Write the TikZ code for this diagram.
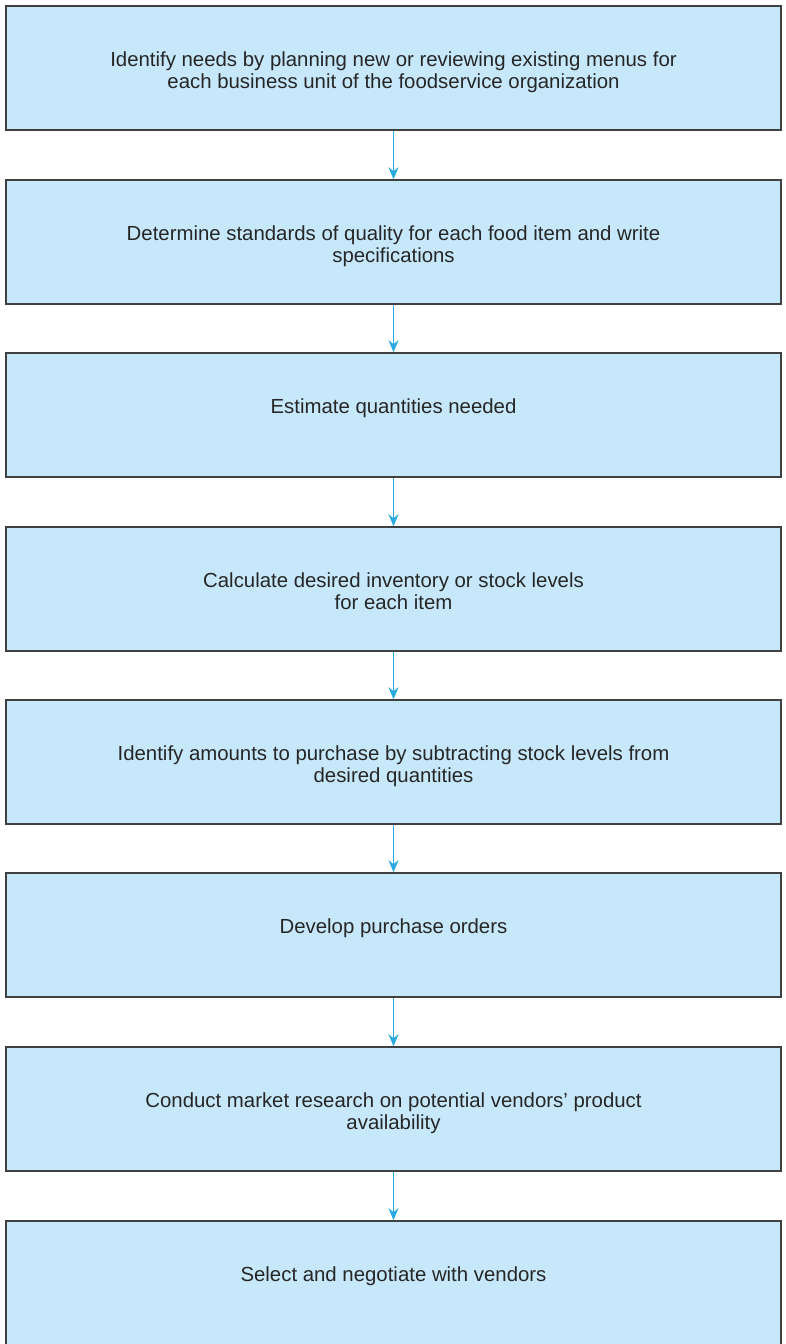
\documentclass[tikz,border=0pt]{standalone}
\usepackage{fontspec}
\setmainfont{Liberation Sans}
\usetikzlibrary{positioning,arrows.meta}

\definecolor{boxfill}{HTML}{C6E8FA}
\definecolor{boxline}{HTML}{404040}
\definecolor{arrowblue}{HTML}{29ABE2}
\definecolor{textgray}{HTML}{262626}

\tikzset{
    stepbox/.style={draw=boxline, fill=boxfill, line width=0.85pt,
        minimum width=15.5cm, minimum height=2.48cm, inner sep=0pt},
    steptext/.style={text=textgray, font=\fontsize{11.6}{12.5}\selectfont,
        align=center, inner sep=0pt},
    flowarrow/.style={draw=arrowblue, line width=1pt,
        -{Stealth[length=0.24cm, width=0.2cm]}}
}

\begin{document}
\begin{tikzpicture}
[
    x=0.02cm, y=-0.02cm
]
    \useasboundingbox (0,0) rectangle (785,1344);

    % boxes
    \node [stepbox] (identify) at (393.5, 68) {};
    \node [stepbox] (standards) at (393.5, 242) {};
    \node [stepbox] (estimate) at (393.5, 415) {};
    \node [stepbox] (inventory) at (393.5, 589) {};
    \node [stepbox] (amounts) at (393.5, 762) {};
    \node [stepbox] (orders) at (393.5, 935) {};
    \node [stepbox] (research) at (393.5, 1109) {};
    \node [stepbox] (vendors) at (393.5, 1283) {};

    % texts
    \node [steptext, below=0.92cm of identify.north] (identify-t)
        {Identify needs by planning new or reviewing existing menus for\\
         each business unit of the foodservice organization};
    \node [steptext, below=0.92cm of standards.north] (standards-t)
        {Determine standards of quality for each food item and write\\
         specifications};
    \node [steptext, below=0.92cm of estimate.north] (estimate-t)
        {Estimate quantities needed};
    \node [steptext, below=0.92cm of inventory.north] (inventory-t)
        {Calculate desired inventory or stock levels\\
         for each item};
    \node [steptext, below=0.92cm of amounts.north] (amounts-t)
        {Identify amounts to purchase by subtracting stock levels from\\
         desired quantities};
    \node [steptext, below=0.92cm of orders.north] (orders-t)
        {Develop purchase orders};
    \node [steptext, below=0.92cm of research.north] (research-t)
        {Conduct market research on potential vendors' product\\
         availability};
    \node [steptext, below=0.92cm of vendors.north] (vendors-t)
        {Select and negotiate with vendors};

    % arrows
    \draw [flowarrow] (identify) -- (standards);
    \draw [flowarrow] (standards) -- (estimate);
    \draw [flowarrow] (estimate) -- (inventory);
    \draw [flowarrow] (inventory) -- (amounts);
    \draw [flowarrow] (amounts) -- (orders);
    \draw [flowarrow] (orders) -- (research);
    \draw [flowarrow] (research) -- (vendors);
\end{tikzpicture}
\end{document}
